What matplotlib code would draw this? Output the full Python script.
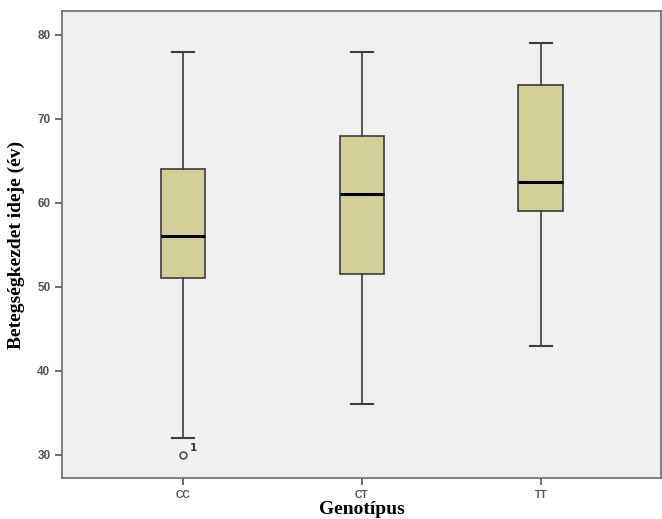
import matplotlib.pyplot as plt

genotypes = ["CC", "CT", "TT"]
whislo = [32, 36, 43]
q1 = [51, 51.5, 59]
med = [56, 61, 62.5]
q3 = [64, 68, 74]
whishi = [78, 78, 79]
fliers = [[30], [], []]
flier_labels = ["1"]

stats = []
for i in range(len(genotypes)):
    stats.append(dict(label=genotypes[i], whislo=whislo[i], q1=q1[i], med=med[i],
                      q3=q3[i], whishi=whishi[i], fliers=fliers[i]))

fig = plt.figure(figsize=(6.62, 5.19), dpi=100)
ax = fig.add_axes([0.094, 0.079, 0.904, 0.9])
ax.set_facecolor("#f0f0f0")

edge = "#3c3c3c"
bp = ax.bxp(stats, positions=[1, 2, 3], widths=0.25, patch_artist=True,
            boxprops=dict(facecolor="#d3cf98", edgecolor=edge, linewidth=1.2),
            medianprops=dict(color="black", linewidth=2.2),
            whiskerprops=dict(color=edge, linewidth=1.2),
            capprops=dict(color=edge, linewidth=1.5),
            capwidths=0.12,
            flierprops=dict(marker="o", markerfacecolor="none", markeredgecolor=edge,
                            markersize=5, markeredgewidth=1))

# outlier case number
ax.annotate(flier_labels[0], (1, fliers[0][0]), xytext=(5, 3), textcoords="offset points",
            fontsize=7.5, color="#333333", fontweight="bold")

ax.set_xlim(0.325, 3.67)
ax.set_ylim(27.25, 82.85)
ax.set_yticks([30, 40, 50, 60, 70, 80])

for s in ax.spines.values():
    s.set_color("#6a6a6a")
    s.set_linewidth(1.2)

ax.tick_params(axis="both", direction="out", length=5, width=1.2, color="#555555",
               labelcolor="#555555", labelsize=8.5)
ax.tick_params(axis="x", labelsize=7.5)
for lab in ax.get_yticklabels() + ax.get_xticklabels():
    lab.set_fontweight("bold")
    lab.set_family("Liberation Sans")

ax.set_ylabel("Betegségkezdet ideje (év)", family="Liberation Serif", fontweight="bold",
              fontsize=14, labelpad=9)
ax.set_xlabel("Genotípus", family="Liberation Serif", fontweight="bold",
              fontsize=14, labelpad=1)

fig.savefig("out.png", dpi=100)
